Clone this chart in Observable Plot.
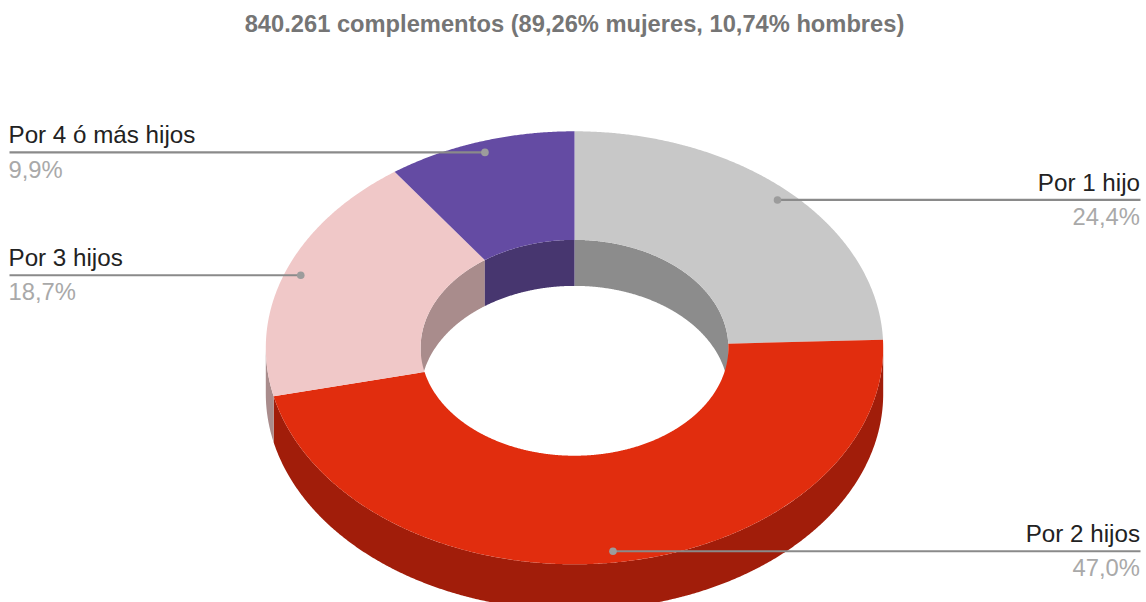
<!DOCTYPE html>
<html>
<head>
<meta charset="utf-8">
<script src="https://cdn.jsdelivr.net/npm/d3@7"></script>
<script src="https://cdn.jsdelivr.net/npm/@observablehq/plot@0.6"></script>
<style>
html,body{margin:0;padding:0;background:#fff;overflow:hidden}
svg{display:block}
</style>
</head>
<body>
<div id="chart"></div>
<script>
const titleText = "840.261 complementos (89,26% mujeres, 10,74% hombres)";
const categories = ["Por 1 hijo", "Por 2 hijos", "Por 3 hijos", "Por 4 ó más hijos"];
const shares = [24.4, 47.0, 18.7, 9.9];
const topColors = ["#c8c8c8", "#e12d0e", "#f0c8c8", "#644ba3"];
const wallColors = ["#8c8c8c", "#a11d0a", "#a98c8c", "#47366f"];

// Chart geometry, in pixels of the 1146x602 frame
const W = 1146, H = 602, CX = 574, CY = 347.3, RX = 308.7, RY = 216.5;
const HOLE = 0.4985, DEPTH = 46 / RY, DOT_R = 0.948;
const EDGE_LEFT = (9 - CX) / RX, EDGE_RIGHT = (1140 - CX) / RX;

const total = d3.sum(shares);
let run = 0;
const slices = categories.map((name, i) => {
  const a0 = run / total * 2 * Math.PI;
  run += shares[i];
  const a1 = run / total * 2 * Math.PI;
  return {name, i, a0, a1, mid: (a0 + a1) / 2};
});

const arc = (r, a0, a1, dy = 0) => {
  const n = Math.max(2, Math.ceil((a1 - a0) / 0.005));
  return d3.range(n + 1).map(k => {
    const a = a0 + (a1 - a0) * k / n;
    return {x: r * Math.sin(a), y: r * Math.cos(a) - dy};
  });
};

const shapes = [];
const add = (id, color, pts) => pts.forEach(p => shapes.push({...p, id, color}));

// Outer wall: front half of the ring only
slices.forEach(s => {
  const a0 = Math.max(s.a0, Math.PI / 2), a1 = Math.min(s.a1, 3 * Math.PI / 2);
  if (a1 > a0) add("outer" + s.i, wallColors[s.i], [...arc(1, a0, a1), ...arc(1, a0, a1, DEPTH).reverse()]);
});
// Inner wall: back half of the hole only
slices.forEach(s => {
  [[s.a0, Math.min(s.a1, Math.PI / 2)], [Math.max(s.a0, 3 * Math.PI / 2), s.a1]].forEach(([a0, a1], j) => {
    if (a1 > a0) add("inner" + s.i + j, wallColors[s.i], [...arc(HOLE, a0, a1), ...arc(HOLE, a0, a1, DEPTH).reverse()]);
  });
});
// Top faces
slices.forEach(s => add("top" + s.i, topColors[s.i], [...arc(1, s.a0, s.a1), ...arc(HOLE, s.a0, s.a1).reverse()]));

const callouts = slices.map(s => {
  const left = Math.sin(s.mid) < 0;
  return {
    name: s.name,
    value: shares[s.i].toFixed(1).replace(".", ",") + "%",
    x: DOT_R * Math.sin(s.mid),
    y: DOT_R * Math.cos(s.mid),
    edge: left ? EDGE_LEFT : EDGE_RIGHT,
    anchor: left ? "start" : "end"
  };
});
const leftOnes = callouts.filter(d => d.anchor === "start");
const rightOnes = callouts.filter(d => d.anchor === "end");
const labelMarks = (rows, anchor, dx) => [
  Plot.text(rows, {x: "edge", y: "y", text: "name", textAnchor: anchor, dx, dy: -17, fill: "#222222", fontSize: 24.2, fontFamily: "Liberation Sans"}),
  Plot.text(rows, {x: "edge", y: "y", text: "value", textAnchor: anchor, dx, dy: 17.5, fill: "#a9a9a9", fontSize: 23.8, fontFamily: "Liberation Sans"})
];

const chart = Plot.plot({
  width: W, height: H,
  marginTop: 0, marginRight: 0, marginBottom: 0, marginLeft: 0,
  style: {background: "#fff", overflow: "hidden"},
  x: {axis: null, domain: [-CX / RX, (W - CX) / RX], range: [0, W]},
  y: {axis: null, domain: [(CY - H) / RY, CY / RY], range: [H, 0]},
  color: {type: "identity"},
  marks: [
    Plot.line(shapes, {x: "x", y: "y", z: "id", fill: "color", stroke: "none", curve: "linear-closed"}),
    Plot.link(callouts, {x1: "x", y1: "y", x2: "edge", y2: "y", stroke: "#8a8a8a", strokeWidth: 2.2}),
    Plot.dot(callouts, {x: "x", y: "y", r: 3.8, fill: "#9c9c9c", stroke: "none"}),
    ...labelMarks(leftOnes, "start", -1),
    ...labelMarks(rightOnes, "end", -0.5),
    Plot.text([titleText], {frameAnchor: "top", dx: 1, dy: 15, text: d => d, fill: "#757575", fontSize: 23.7, fontWeight: "bold", fontFamily: "Liberation Sans"})
  ]
});
document.getElementById("chart").append(chart);
</script>
</body>
</html>
